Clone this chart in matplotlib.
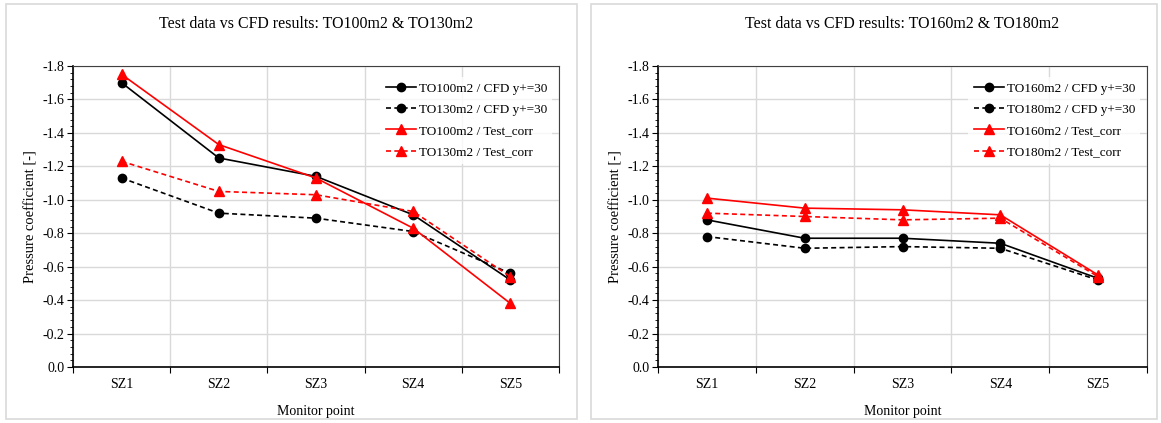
import matplotlib.pyplot as plt
from matplotlib.patches import Rectangle
from matplotlib.ticker import MultipleLocator, FixedLocator, NullFormatter, FuncFormatter

plt.rcParams['font.family'] = ['Liberation Serif', 'DejaVu Serif']

points = ["SZ1", "SZ2", "SZ3", "SZ4", "SZ5"]

# left chart: TO100m2 & TO130m2
cfd_100 = [-1.70, -1.25, -1.14, -0.91, -0.52]
cfd_130 = [-1.13, -0.92, -0.89, -0.81, -0.56]
test_100 = [-1.75, -1.33, -1.13, -0.83, -0.38]
test_130 = [-1.23, -1.05, -1.03, -0.93, -0.54]

# right chart: TO160m2 & TO180m2
cfd_160 = [-0.88, -0.77, -0.77, -0.74, -0.53]
cfd_180 = [-0.78, -0.71, -0.72, -0.71, -0.52]
test_160 = [-1.01, -0.95, -0.94, -0.91, -0.55]
test_180 = [-0.92, -0.90, -0.88, -0.89, -0.54]

W, H = 1161, 423
fig = plt.figure(figsize=(W / 100, H / 100), dpi=100)


def px(x0, y0, x1, y1):
    return [x0 / W, 1 - y1 / H, (x1 - x0) / W, (y1 - y0) / H]


# panel frames
for x0, x1 in [(6, 577), (591, 1157)]:
    fig.patches.append(Rectangle((x0 / W, 4 / H), (x1 - x0) / W, (419 - 4) / H,
                                 transform=fig.transFigure, fill=False,
                                 edgecolor="#d9d9d9", linewidth=1.2))


def draw(ax, series, labels, title):
    x = range(1, len(points) + 1)
    styles = [("black", "-", "o", 6), ("black", "--", "o", 6),
              ("red", "-", "^", 7), ("red", "--", "^", 7)]
    for vals, lab, (c, ls, m, ms) in zip(series, labels, styles):
        ax.plot(x, vals, color=c, linestyle=ls, marker=m, markersize=ms,
                linewidth=1.2, label=lab, dashes=(3, 2) if ls == "--" else (None, None))
    ax.set_xlim(0.5, 5.5)
    ax.set_ylim(0, -1.8)
    ax.yaxis.set_major_locator(MultipleLocator(0.2))
    ax.yaxis.set_minor_locator(MultipleLocator(0.04))
    ax.yaxis.set_major_formatter(FuncFormatter(lambda v, p: f"{v:.1f}" if abs(v) > 1e-9 else "0.0"))
    ax.xaxis.set_major_locator(FixedLocator([0.5, 1.5, 2.5, 3.5, 4.5, 5.5]))
    ax.xaxis.set_major_formatter(NullFormatter())
    ax.xaxis.set_minor_locator(FixedLocator(list(x)))
    ax.set_xticklabels(points, minor=True)
    ax.tick_params(axis="x", which="minor", length=0, pad=8, labelsize=10)
    ax.tick_params(axis="x", which="major", length=4, direction="out")
    ax.tick_params(axis="y", which="major", length=4, direction="out", labelsize=10, pad=2)
    ax.tick_params(axis="y", which="minor", length=2, direction="out")
    ax.grid(True, which="major", color="#d9d9d9", linewidth=1)
    ax.set_axisbelow(True)
    for s in ax.spines.values():
        s.set_color("#404040")
        s.set_linewidth(0.8)
    ax.spines["left"].set_color("black")
    ax.spines["bottom"].set_color("black")
    ax.spines["left"].set_linewidth(1.2)
    ax.spines["bottom"].set_linewidth(1.2)
    ax.set_xlabel("Monitor point", fontsize=10, labelpad=10)
    ax.set_ylabel("Pressure coefficient [-]", fontsize=10.5, labelpad=4)
    ax.set_title(title, fontsize=11.4, pad=27)
    leg = ax.legend(loc="upper right", bbox_to_anchor=(1.0, 0.985), fontsize=9.5,
                    frameon=True, fancybox=False, edgecolor="white",
                    handlelength=2.3, handletextpad=0.2, labelspacing=0.68,
                    borderpad=0.4)
    leg.get_frame().set_linewidth(0)


ax1 = fig.add_axes(px(73, 66, 559, 367))
draw(ax1, [cfd_100, cfd_130, test_100, test_130],
     ["TO100m2 / CFD y+=30", "TO130m2 / CFD y+=30",
      "TO100m2 / Test_corr", "TO130m2 / Test_corr"],
     "Test data vs CFD results: TO100m2 & TO130m2")

ax2 = fig.add_axes(px(658, 66, 1147, 367))
draw(ax2, [cfd_160, cfd_180, test_160, test_180],
     ["TO160m2 / CFD y+=30", "TO180m2 / CFD y+=30",
      "TO160m2 / Test_corr", "TO180m2 / Test_corr"],
     "Test data vs CFD results: TO160m2 & TO180m2")

fig.savefig("out.png", dpi=100)
